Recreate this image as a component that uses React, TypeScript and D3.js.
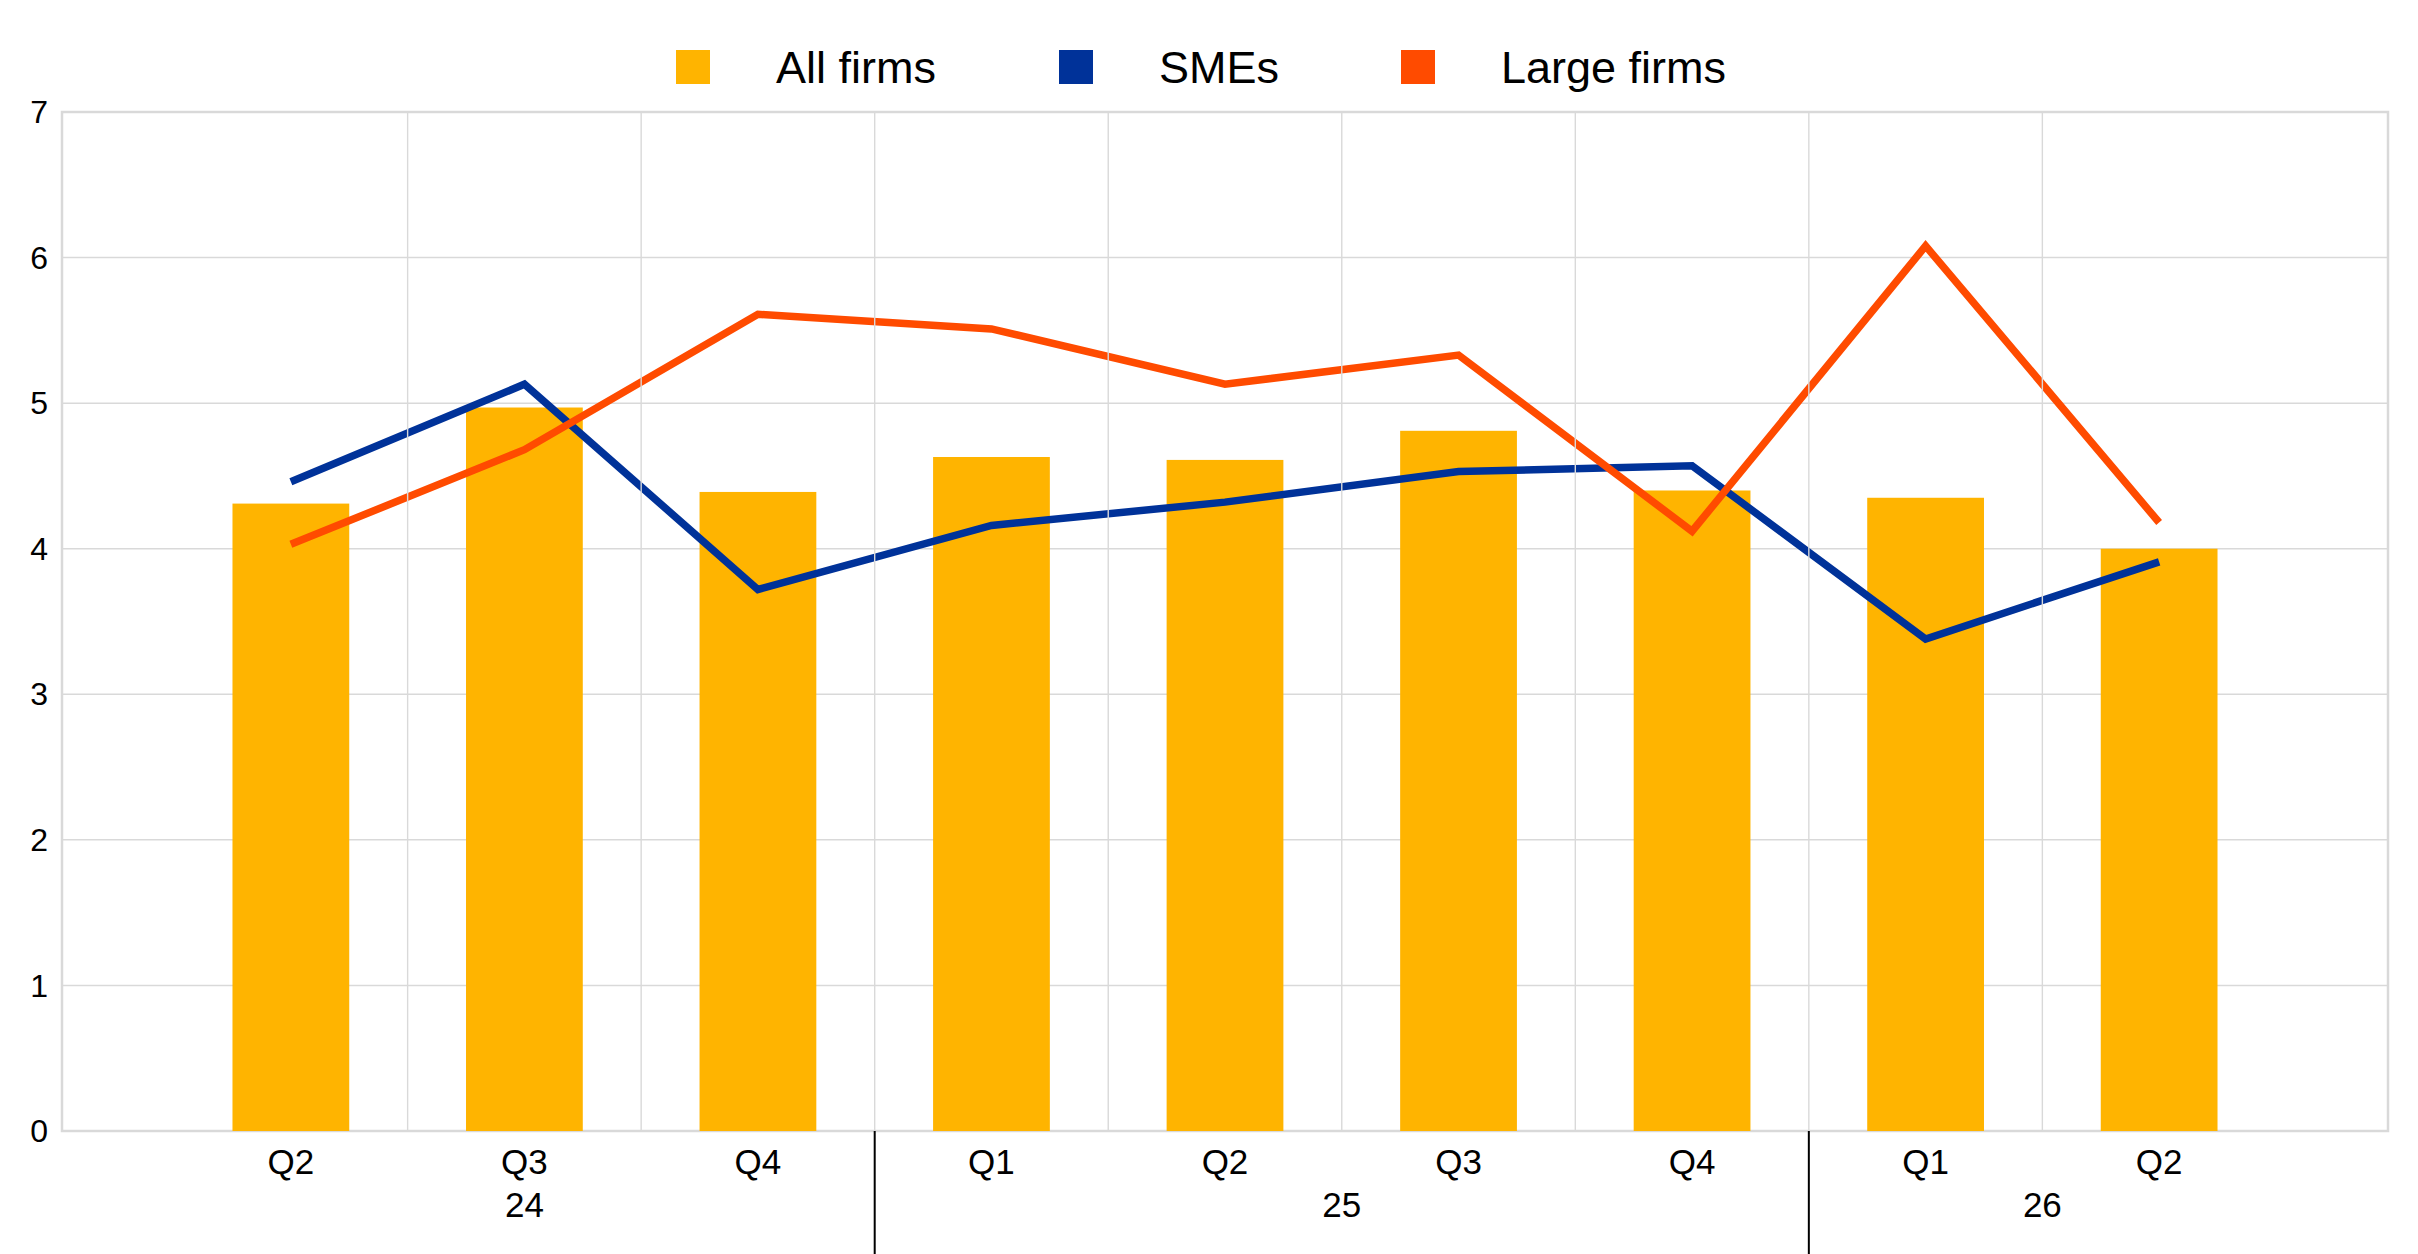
import * as d3 from "d3";

// quarters and the year each one belongs to
const quarters = ["Q2", "Q3", "Q4", "Q1", "Q2", "Q3", "Q4", "Q1", "Q2"];
const years = ["24", "24", "24", "25", "25", "25", "25", "26", "26"];
const yTicks = [0, 1, 2, 3, 4, 5, 6, 7];

const allFirms = [4.31, 4.97, 4.39, 4.63, 4.61, 4.81, 4.4, 4.35, 4.0];
const smes = [4.46, 5.13, 3.72, 4.16, 4.32, 4.53, 4.57, 3.38, 3.91];
const largeFirms = [4.03, 4.68, 5.61, 5.51, 5.13, 5.33, 4.12, 6.08, 4.18];

const legendItems = [
  { label: "All firms", color: "#FFB400" },
  { label: "SMEs", color: "#003299" },
  { label: "Large firms", color: "#FF4B00" },
];

const W = 2418;
const H = 1254;
const left = 62;
const right = 2388;
const top = 112;
const bottom = 1131;
const font = "'Liberation Sans', Arial, sans-serif";

export default function App() {
  const keys = quarters.map((_, i) => String(i));
  const x = d3.scalePoint<string>().domain(keys).range([left, right]).padding(0.98);
  const step = x.step();
  const y = d3.scaleLinear().domain([0, 7]).range([bottom, top]);
  const px = (i: number) => x(String(i)) ?? 0;

  const line = d3
    .line<number>()
    .x((_, i) => px(i))
    .y((d) => y(d));

  // year groups: first and last index of every year
  const groups = d3.groups(
    years.map((yr, i) => ({ yr, i })),
    (d) => d.yr
  );

  // legend layout (x of each swatch)
  const legendX = [676, 1059, 1401];

  return (
    <svg
      width={W}
      height={H}
      style={{ position: "absolute", left: 0, top: 0, background: "#fff" }}
      fontFamily={font}
    >
      {/* horizontal gridlines */}
      {yTicks.map((t) => (
        <line key={"h" + t} x1={left} x2={right} y1={y(t)} y2={y(t)} stroke="#d9d9d9" strokeWidth={1.5} />
      ))}
      <rect x={left} y={top} width={right - left} height={bottom - top} fill="none" stroke="#d9d9d9" strokeWidth={2.5} />

      {/* bars */}
      {allFirms.map((v, i) => (
        <rect key={"b" + i} x={px(i) - step / 4} width={step / 2} y={y(v)} height={y(0) - y(v)} fill="#FFB400" />
      ))}

      {/* lines */}
      <path d={line(smes) ?? ""} fill="none" stroke="#003299" strokeWidth={7.5} />
      <path d={line(largeFirms) ?? ""} fill="none" stroke="#FF4B00" strokeWidth={7.5} />

      {/* vertical gridlines between categories (drawn above the lines) */}
      {quarters.slice(1).map((_, i) => (
        <line
          key={"v" + i}
          x1={px(i + 1) - step / 2}
          x2={px(i + 1) - step / 2}
          y1={top}
          y2={bottom}
          stroke="#d9d9d9"
          strokeWidth={1.4}
        />
      ))}

      {/* y axis labels */}
      {yTicks.map((t) => (
        <text key={"yl" + t} x={48} y={y(t)} dy="0.35em" textAnchor="end" fontSize={32}>
          {t}
        </text>
      ))}

      {/* quarter labels */}
      {quarters.map((q, i) => (
        <text key={"q" + i} x={px(i)} y={1174} textAnchor="middle" fontSize={35}>
          {q}
        </text>
      ))}

      {/* year labels and separators */}
      {groups.map(([yr, items], gi) => {
        const a = px(items[0].i);
        const b = px(items[items.length - 1].i);
        return (
          <g key={"y" + yr}>
            <text x={(a + b) / 2} y={1217} textAnchor="middle" fontSize={35}>
              {yr}
            </text>
            {gi > 0 && (
              <line x1={a - step / 2} x2={a - step / 2} y1={bottom} y2={H} stroke="#000" strokeWidth={2} />
            )}
          </g>
        );
      })}

      {/* legend */}
      {legendItems.map((d, i) => (
        <g key={d.label}>
          <rect x={legendX[i]} y={50} width={34} height={34} fill={d.color} />
          <text x={legendX[i] + 100} y={83} fontSize={45}>
            {d.label}
          </text>
        </g>
      ))}
    </svg>
  );
}
